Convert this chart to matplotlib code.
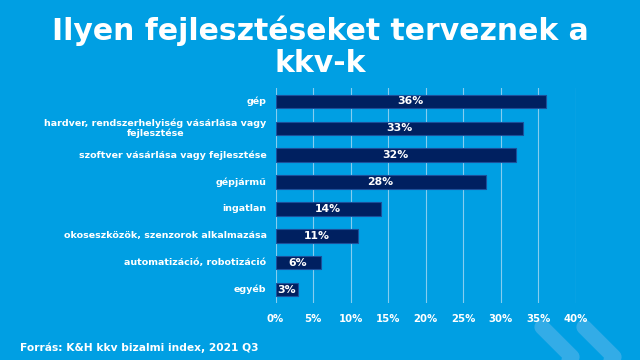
import matplotlib
matplotlib.use("Agg")
import matplotlib.pyplot as plt
from matplotlib.lines import Line2D

categories = ["gép", "hardver, rendszerhelyiség vásárlása vagy\nfejlesztése",
              "szoftver vásárlása vagy fejlesztése", "gépjármű", "ingatlan",
              "okoseszközök, szenzorok alkalmazása", "automatizáció, robotizáció", "egyéb"]
values = [36, 33, 32, 28, 14, 11, 6, 3]
xticks = [0, 5, 10, 15, 20, 25, 30, 35, 40]
title_lines = ["Ilyen fejlesztéseket terveznek a", "kkv-k"]
source = "Forrás: K&H kkv bizalmi index, 2021 Q3"

bg = "#009FE3"
bar_col = "#002060"

fig = plt.figure(figsize=(6.4, 3.6), dpi=100, facecolor=bg)
W, H = 640, 360

# decorative chevrons
for dx in (0, 42):
    xs = [(542 + dx) / W, (572 + dx) / W, (558 + dx) / W]
    ys = [1 - 327 / H, 1 - 357 / H, 1 - 375 / H]
    fig.add_artist(Line2D(xs, ys, transform=fig.transFigure, color="#33ACE7",
                          lw=11, solid_capstyle="round", solid_joinstyle="round",
                          zorder=0))

ax = fig.add_axes([275.5 / W, 1 - 303 / H, 300.5 / W, 215 / H])
ax.set_facecolor(bg)
y = list(range(len(categories)))
ax.barh(y, values, height=0.5, color=bar_col, edgecolor="#1B4F9A", linewidth=0.8, zorder=3)
for yi, v in zip(y, values):
    ax.text(v / 2, yi, f"{v}%", ha="center", va="center", color="white",
            fontsize=7.8, fontweight="bold", zorder=4)
ax.set_ylim(len(categories) - 0.5, -0.5)
ax.set_xlim(0, 40)
ax.set_xticks(xticks)
ax.set_xticklabels([f"{t}%" for t in xticks])
ax.set_yticks(y)
ax.set_yticklabels([])
for yi, c in zip(y, categories):
    ax.text(-9 / 300.5 * 40, yi, c, ha="right", va="center", multialignment="center",
            fontsize=6.8, fontweight="bold", color="white", linespacing=1.15)
for lab in ax.get_xticklabels():
    lab.set_fontsize(7.3)
    lab.set_fontweight("bold")
    lab.set_color("white")
ax.tick_params(axis="both", length=0)
ax.tick_params(axis="x", pad=8)
ax.grid(axis="x", color="#86CDEF", lw=0.8, zorder=0)
for s in ax.spines.values():
    s.set_visible(False)

fig.text(0.5, 1 - 31 / H, title_lines[0], ha="center", va="center", fontsize=21.5,
         fontweight="bold", color="white")
fig.text(0.5, 1 - 63 / H, title_lines[1], ha="center", va="center", fontsize=21.5,
         fontweight="bold", color="white")
fig.text(20 / W, 1 - 348 / H, source, ha="left", va="center", fontsize=7.7,
         fontweight="bold", color="white")

fig.savefig("out.png", dpi=100, facecolor=bg)
